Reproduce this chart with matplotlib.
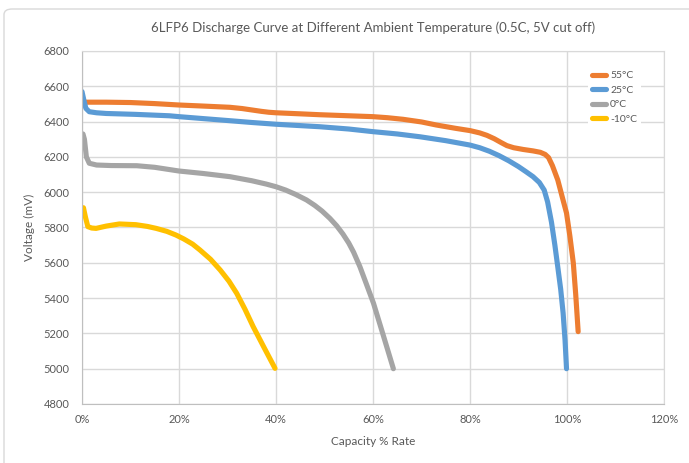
import matplotlib.pyplot as plt
from matplotlib.patches import FancyBboxPatch
from matplotlib.ticker import FuncFormatter, MultipleLocator

# Datos (capacidad %, voltaje mV)
cap_55 = [0.8, 5, 10, 15, 20, 25, 30.5, 33, 35, 37, 38.5, 40, 45, 49, 55, 60, 63, 66.2, 70,
          73, 77, 80, 82, 83.5, 85, 86.5, 87.6, 89, 91, 93, 94.5, 95.5, 96.2, 97, 98.1, 99,
          99.9, 100.6, 101.3, 101.8, 102.3]
volt_55 = [6510, 6510, 6508, 6502, 6494, 6488, 6481, 6474, 6466, 6458, 6453, 6450, 6444, 6439,
           6433, 6428, 6422, 6413, 6398, 6381, 6362, 6349, 6336, 6322, 6303, 6280, 6264, 6252,
           6242, 6234, 6226, 6214, 6196, 6150, 6069, 5975, 5882, 5750, 5599, 5420, 5210]

cap_25 = [0, 0.4, 0.8, 1.5, 3, 5, 11, 18, 20, 25, 30.5, 35, 40, 49, 55, 60, 65, 69.7, 75, 80,
          82, 84, 86, 88, 90, 91.5, 93, 94.3, 95.3, 96, 96.8, 97.5, 98.1, 98.7, 99.2, 99.6, 99.9]
volt_25 = [6570, 6520, 6475, 6456, 6450, 6446, 6441, 6433, 6428, 6417, 6405, 6395, 6385, 6371,
           6358, 6343, 6330, 6314, 6292, 6267, 6252, 6232, 6207, 6178, 6145, 6117, 6088, 6055,
           6012, 5945, 5830, 5700, 5576, 5450, 5315, 5160, 5000]

cap_0 = [0.2, 0.5, 0.9, 1.5, 3, 6, 11.3, 15, 20, 25, 30.5, 35, 38, 40, 42, 44, 46.3, 48, 49.5,
         51.1, 52.5, 53.8, 55, 56, 57.3, 58.7, 60.1, 62, 64.2]
volt_0 = [6330, 6300, 6200, 6164, 6154, 6151, 6150, 6141, 6120, 6106, 6088, 6065, 6046, 6031,
          6012, 5988, 5956, 5925, 5893, 5852, 5810, 5763, 5712, 5660, 5578, 5475, 5371, 5200,
          5000]

cap_m10 = [0.3, 0.7, 1.2, 2, 2.9, 5, 7.7, 11.1, 13.5, 15.3, 17.5, 19.4, 21, 22.8, 24.3, 26.5,
           28.5, 30.3, 31.9, 33.6, 35.3, 37.5, 39.8]
volt_m10 = [5912, 5860, 5805, 5797, 5795, 5808, 5820, 5816, 5806, 5795, 5778, 5757, 5735,
            5706, 5673, 5620, 5559, 5496, 5427, 5337, 5238, 5122, 5002]

series = [("55°C", cap_55, volt_55, "#ED7D31"),
          ("25°C", cap_25, volt_25, "#5B9BD5"),
          ("0°C", cap_0, volt_0, "#A5A5A5"),
          ("-10°C", cap_m10, volt_m10, "#FFC000")]

TXT = "#595959"
plt.rcParams['font.family'] = ['Lato', 'DejaVu Sans']

fig = plt.figure(figsize=(6.89, 4.63), dpi=100)
ax = fig.add_axes([82 / 689, 59 / 463, 582 / 689, 353 / 463])

for nombre, x, y, color in series:
    ax.plot(x, y, color=color, lw=3.7, label=nombre, solid_capstyle="round",
            solid_joinstyle="round")

ax.set_xlim(0, 120)
ax.set_ylim(4800, 6800)
ax.xaxis.set_major_locator(MultipleLocator(20))
ax.yaxis.set_major_locator(MultipleLocator(200))
ax.xaxis.set_major_formatter(FuncFormatter(lambda v, p: f"{v:.0f}%"))
ax.grid(True, color="#D9D9D9", lw=1)
ax.set_axisbelow(True)
for lado in ["top", "right"]:
    ax.spines[lado].set_color("#D9D9D9")
for lado in ["left", "bottom"]:
    ax.spines[lado].set_color("#BFBFBF")
ax.tick_params(length=0, colors=TXT, labelsize=8)
ax.tick_params(axis="x", pad=7)
ax.tick_params(axis="y", pad=9)

ax.set_title("6LFP6 Discharge Curve at Different Ambient Temperature (0.5C, 5V cut off)",
             fontsize=9.5, color=TXT, pad=14)
ax.set_xlabel("Capacity % Rate", fontsize=8.5, color=TXT, labelpad=8)
ax.set_ylabel("Voltage (mV)", fontsize=8.5, color=TXT, labelpad=6)

leg = ax.legend(loc="upper left", bbox_to_anchor=(0.86, 0.97), frameon=True,
                fontsize=7.5, handlelength=1.4, handletextpad=0.35, labelspacing=0.5,
                borderpad=0.4)
leg.get_frame().set_edgecolor("none")
leg.get_frame().set_facecolor("white")
leg.get_frame().set_alpha(1)
for t in leg.get_texts():
    t.set_color(TXT)

# Borde del área del gráfico
borde = FancyBboxPatch((4 / 689, -0.2), 1.2, (463 - 9) / 463 + 0.2,
                       boxstyle="round,pad=0,rounding_size=0.012",
                       transform=fig.transFigure, fill=False, edgecolor="#D9D9D9", lw=1)
fig.patches.append(borde)

fig.savefig("out.png", dpi=100)
